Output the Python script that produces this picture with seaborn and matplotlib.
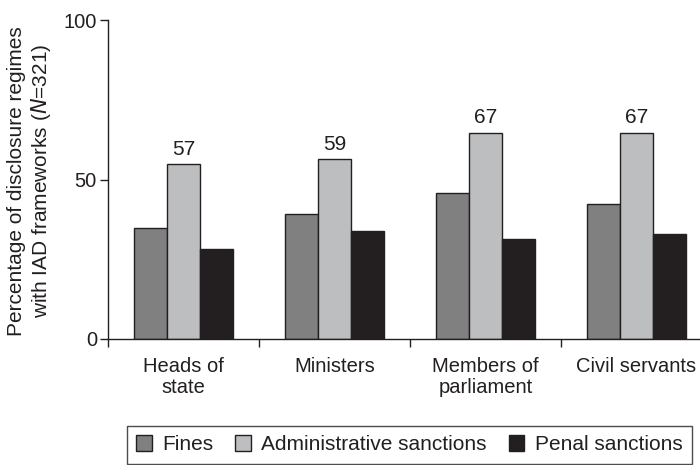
import matplotlib
matplotlib.use("Agg")
import matplotlib.pyplot as plt
import seaborn as sns
import pandas as pd
from matplotlib.ticker import FixedLocator

categories = ["Heads of\nstate", "Ministers", "Members of\nparliament", "Civil servants"]
series = ["Fines", "Administrative sanctions", "Penal sanctions"]
fines = [34.7, 39.3, 45.8, 42.3]
administrative = [54.8, 56.4, 64.6, 64.6]
penal = [28.3, 33.9, 31.4, 33.0]
admin_labels = ["57", "59", "67", "67"]
yticks = [0, 50, 100]

colors = ["#808080", "#bdbec0", "#231f20"]

rows = []
for s, vals in zip(series, [fines, administrative, penal]):
    for c, v in zip(categories, vals):
        rows.append({"category": c, "series": s, "value": v})
df = pd.DataFrame(rows)

sns.set_style("white")
plt.rcParams["font.family"] = ["Liberation Sans", "DejaVu Sans"]

fig = plt.figure(figsize=(7.0, 4.65), dpi=100)
ax = fig.add_axes([108 / 700, 126 / 465, 592 / 700, 319 / 465])

sns.barplot(data=df, x="category", y="value", hue="series", order=categories,
            hue_order=series, palette=colors, width=0.66, gap=0,
            edgecolor="#231f20", linewidth=1.0, saturation=1, ax=ax, legend=True)

ax.set_xlim(-0.5, -0.5 + 592 / 151)
ax.set_ylim(0, 100)
ax.set_yticks(yticks)
ax.set_yticklabels([str(t) for t in yticks])
ax.set_xlabel("")
ax.set_ylabel("Percentage of disclosure regimes\nwith IAD frameworks ($\\it{N}$=321)",
              fontsize=15, color="#231f20", linespacing=1.15)
ax.yaxis.set_label_coords(-0.093, 0.495)

for sp in ["top", "right"]:
    ax.spines[sp].set_visible(False)
for sp in ["left", "bottom"]:
    ax.spines[sp].set_color("#231f20")
    ax.spines[sp].set_linewidth(1.0)

ax.tick_params(axis="y", direction="out", length=6, width=1, color="#231f20",
               labelsize=14.5, pad=2, labelcolor="#231f20", left=True)
ax.tick_params(axis="x", which="major", length=0, labelsize=14.5, pad=13,
               labelcolor="#231f20")
for lbl in ax.get_xticklabels():
    lbl.set_linespacing(1.15)
ax.xaxis.set_minor_locator(FixedLocator([-0.5, 0.5, 1.5, 2.5]))
ax.tick_params(axis="x", which="minor", direction="out", length=6, width=1,
               color="#231f20", bottom=True)

# labels above administrative bars
admin_container = ax.containers[1]
ax.bar_label(admin_container, labels=admin_labels, padding=4, fontsize=15,
             color="#231f20")

handles, labels = ax.get_legend_handles_labels()
ax.get_legend().remove()
leg = fig.legend(handles, labels, loc="upper left",
                 bbox_to_anchor=(127 / 700, (465 - 426) / 465), ncol=3,
                 fontsize=15, frameon=True, fancybox=False, edgecolor="#231f20",
                 handlelength=0.75, handleheight=0.75, handletextpad=0.5,
                 columnspacing=1.05, borderpad=0.45, borderaxespad=0)
leg.get_frame().set_linewidth(1.0)
for t in leg.get_texts():
    t.set_color("#231f20")

fig.savefig("out.png", dpi=100)
